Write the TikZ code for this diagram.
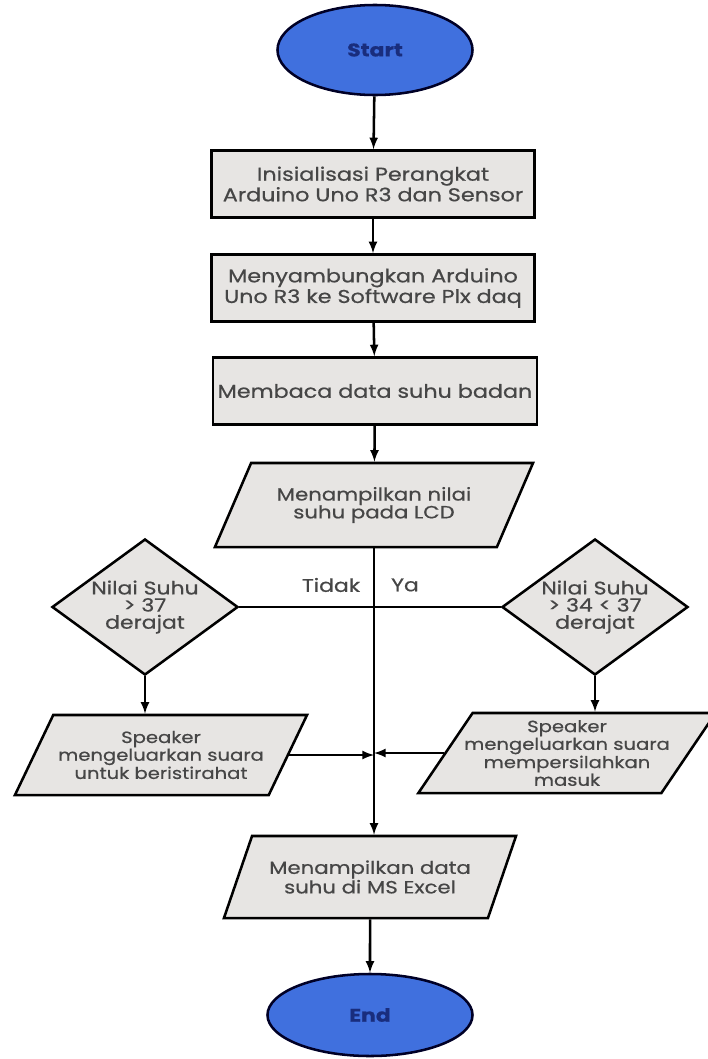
\documentclass[tikz,border=0pt]{standalone}
\usepackage{fontspec}
\setmainfont[FakeStretch=1.2,FakeBold=0.6]{Poppins}
\usetikzlibrary{arrows,shapes.geometric}

\definecolor{termblue}{RGB}{64,112,222}
\definecolor{termtext}{RGB}{25,45,125}
\definecolor{boxgray}{RGB}{231,229,227}
\definecolor{txtgray}{RGB}{70,70,70}

\tikzset{
  term/.style={ellipse,draw=black!85!blue,fill=termblue,line width=1.8pt,
    text=termtext,font=\fontsize{13}{14}\selectfont\bfseries},
  procbox/.style={rectangle,draw,fill=boxgray,line width=1.8pt,
    minimum width=8.075cm,minimum height=1.675cm,align=center,text=txtgray,
    font=\fontsize{13.2}{12.8}\selectfont},
  iobox/.style={trapezium,trapezium stretches body,draw,fill=boxgray,
    line width=1.8pt,align=center,text=txtgray,inner sep=1pt,
    font=\fontsize{12.6}{12.7}\selectfont},
  decide/.style={diamond,draw,fill=boxgray,line width=1.8pt,align=center,
    minimum width=4.65cm,minimum height=3.4cm,inner sep=-7pt,text=txtgray,
    font=\fontsize{13}{12.2}\selectfont},
  speak/.style={font=\fontsize{11.6}{10.2}\selectfont,inner xsep=-6pt,inner ysep=-2pt},
  flow/.style={-latex,line width=1.8pt}
}

\begin{document}
\begin{tikzpicture}[x=0.025cm,y=-0.025cm]
\useasboundingbox (0,0) rectangle (708,1059);
\node[term,minimum width=4.875cm,minimum height=2.25cm] (start) at (375,50) {Start};
\node[procbox] (init) at (373,184) {Inisialisasi Perangkat\\Arduino Uno R3 dan Sensor};
\node[procbox] (conn) at (373,288) {Menyambungkan Arduino\\Uno R3 ke Software Plx daq};
\node[procbox] (read) at (375,391) {Membaca data suhu badan};
\node[iobox,trapezium left angle=47,trapezium right angle=133,
  minimum width=7.95cm,minimum height=2.1cm] (lcd) at (374,505) {Menampilkan nilai\\suhu pada LCD};
\node[decide] (hot) at (145,607) {Nilai Suhu\\> 37\\derajat};
\node[decide] (normal) at (595,607) {Nilai Suhu\\> 34 < 37\\derajat};
\node[iobox,speak,trapezium left angle=48,trapezium right angle=132,
  minimum width=7.3cm,minimum height=2cm] (alarm) at (161,755) {Speaker\\mengeluarkan suara\\untuk beristirahat};
\node[iobox,speak,trapezium left angle=48,trapezium right angle=132,
  minimum width=7.075cm,minimum height=2cm] (welcome) at (567,753) {Speaker\\mengeluarkan suara\\mempersilahkan\\masuk};
\node[iobox,trapezium left angle=52,trapezium right angle=128,
  minimum width=7.3cm,minimum height=2.05cm] (excel) at (370,877) {Menampilkan data\\suhu di MS Excel};
\node[term,minimum width=5.125cm,minimum height=2.05cm] (end) at (370,1015) {End};
\node[text=txtgray,font=\fontsize{13}{14}\selectfont] (tidak) at (331,585) {Tidak};
\node[text=txtgray,font=\fontsize{13}{14}\selectfont] (ya) at (405,585) {Ya};

\draw[flow] (start) -- (init);
\draw[flow] (init) -- (conn);
\draw[flow] (conn) -- (read);
\draw[flow] (read) -- (lcd);
\draw[flow] (lcd.south) -- (lcd.south |- excel.north);
\draw[line width=1.8pt] (hot.east) -- (normal.west);
\draw[flow] (hot.south) -- (hot.south |- alarm.north);
\draw[flow] (normal.south) -- (normal.south |- welcome.north);
\draw[flow] (alarm.east) -- (alarm.east -| lcd.south);
\draw[flow] (welcome.west) -- (welcome.west -| lcd.south);
\draw[flow] (excel.south) -- (end.north);
\end{tikzpicture}
\end{document}
